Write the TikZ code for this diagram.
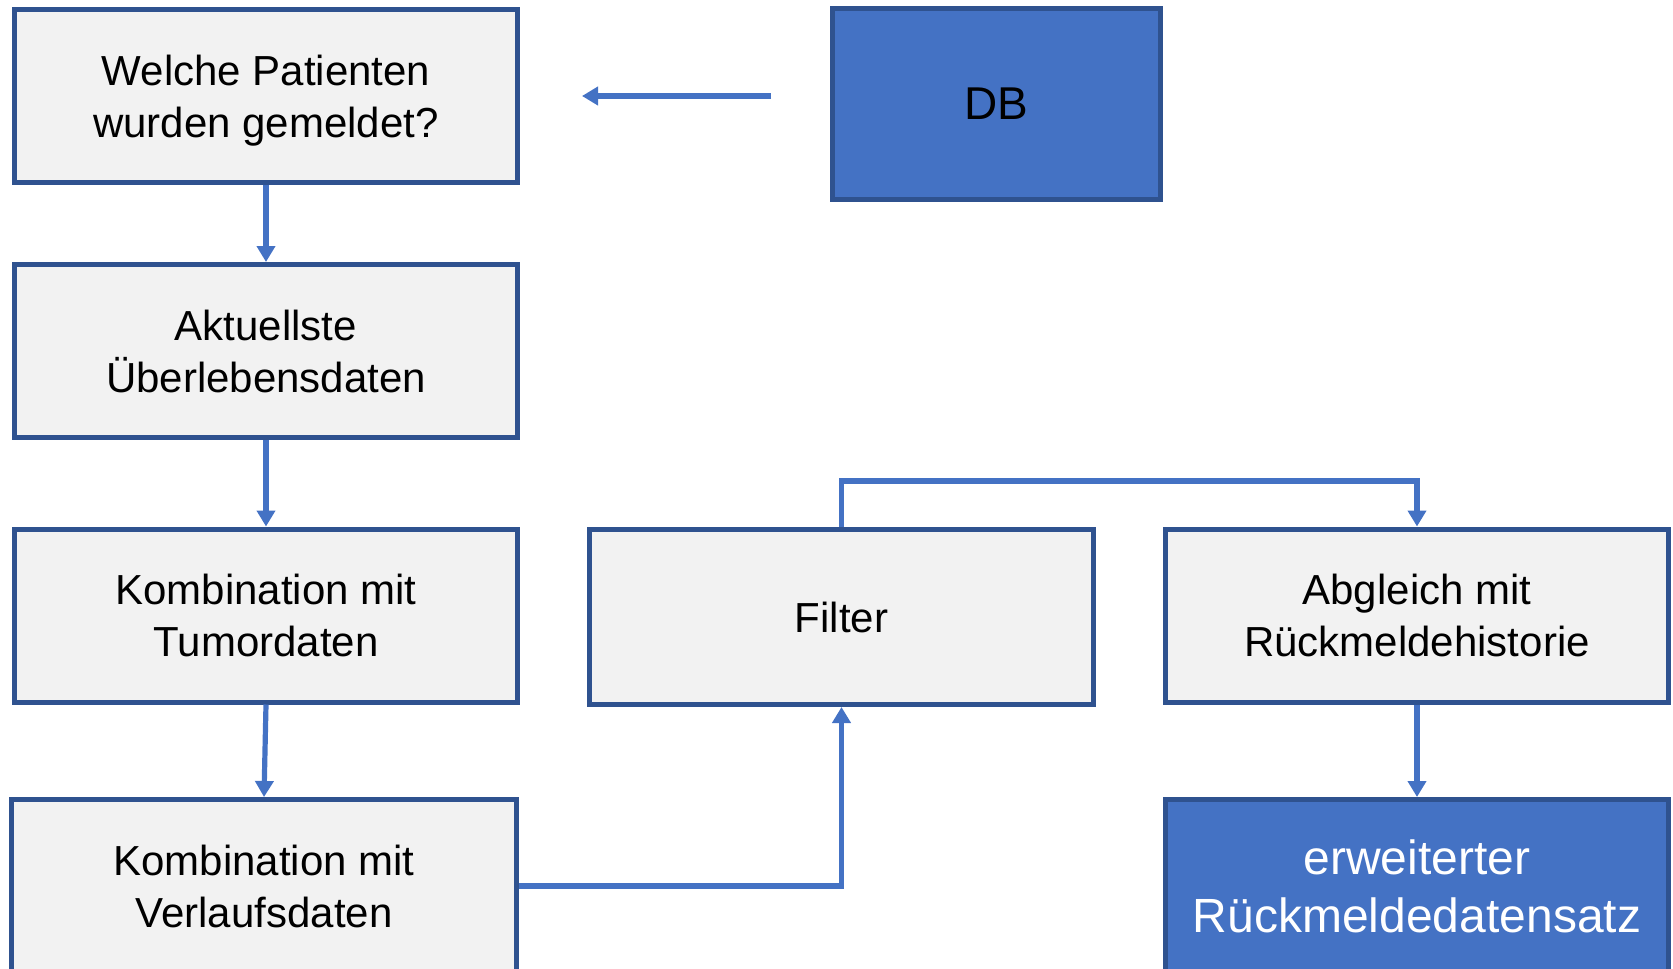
\documentclass[tikz,border=0pt]{standalone}
\usepackage{fontspec}
\setmainfont{Liberation Sans}
\usetikzlibrary{arrows.meta}
\definecolor{boxfill}{HTML}{F2F2F2}
\definecolor{boxline}{HTML}{2F528F}
\definecolor{accent}{HTML}{4472C4}
\begin{document}
\begin{tikzpicture}[x=1pt,y=-1pt,
  stepbox/.style={draw=boxline, line width=5pt, fill=boxfill, minimum width=503pt, minimum height=173pt, align=center, inner sep=0pt, font=\fontsize{42}{52}\selectfont},
  bluebox/.style={draw=boxline, line width=5pt, fill=accent, align=center, inner sep=0pt},
  conn/.style={draw=accent, line width=5.2pt, -{Triangle[width=18pt,length=16pt]}}
]
\useasboundingbox (0,0) rectangle (1673,969);

\node[stepbox] (welche) at (266,95.5) {\rule{0pt}{41pt}Welche Patienten\\wurden gemeldet?};
\node[stepbox] (aktuell) at (266,351) {Aktuellste\\Überlebensdaten};
\node[stepbox] (tumor) at (266,615.5) {Kombination mit\\Tumordaten};
\node[stepbox, minimum width=505pt] (verlauf) at (264,886) {Kombination mit\\Verlaufsdaten};
\node[stepbox, minimum width=504pt, minimum height=175pt] (filter) at (841.5,617) {Filter};
\node[stepbox] (abgleich) at (1417,615.5) {Abgleich mit\\Rückmeldehistorie};
\node[bluebox, minimum width=328pt, minimum height=191pt, font=\fontsize{46}{55}\selectfont] (db) at (996.5,104) {DB};
\node[bluebox, minimum width=503pt, minimum height=173pt, text=white, font=\fontsize{48}{58}\selectfont] (erw) at (1417,886) {erweiterter\\Rückmeldedatensatz};

\coordinate (dbstart) at (771,96);
\coordinate (dbend) at (582,96);
\draw[conn] (dbstart) -- (dbend);

\draw[conn] (welche.south) -- (aktuell.north);
\draw[conn] (aktuell.south) -- (tumor.north);
\draw[conn] (tumor.south) -- (verlauf.north);
\draw[conn] (verlauf.east) -| (filter.south);
\draw[conn] (filter.north) -- ++(0,-46) -| (abgleich.north);
\draw[conn] (abgleich.south) -- (erw.north);
\end{tikzpicture}
\end{document}
